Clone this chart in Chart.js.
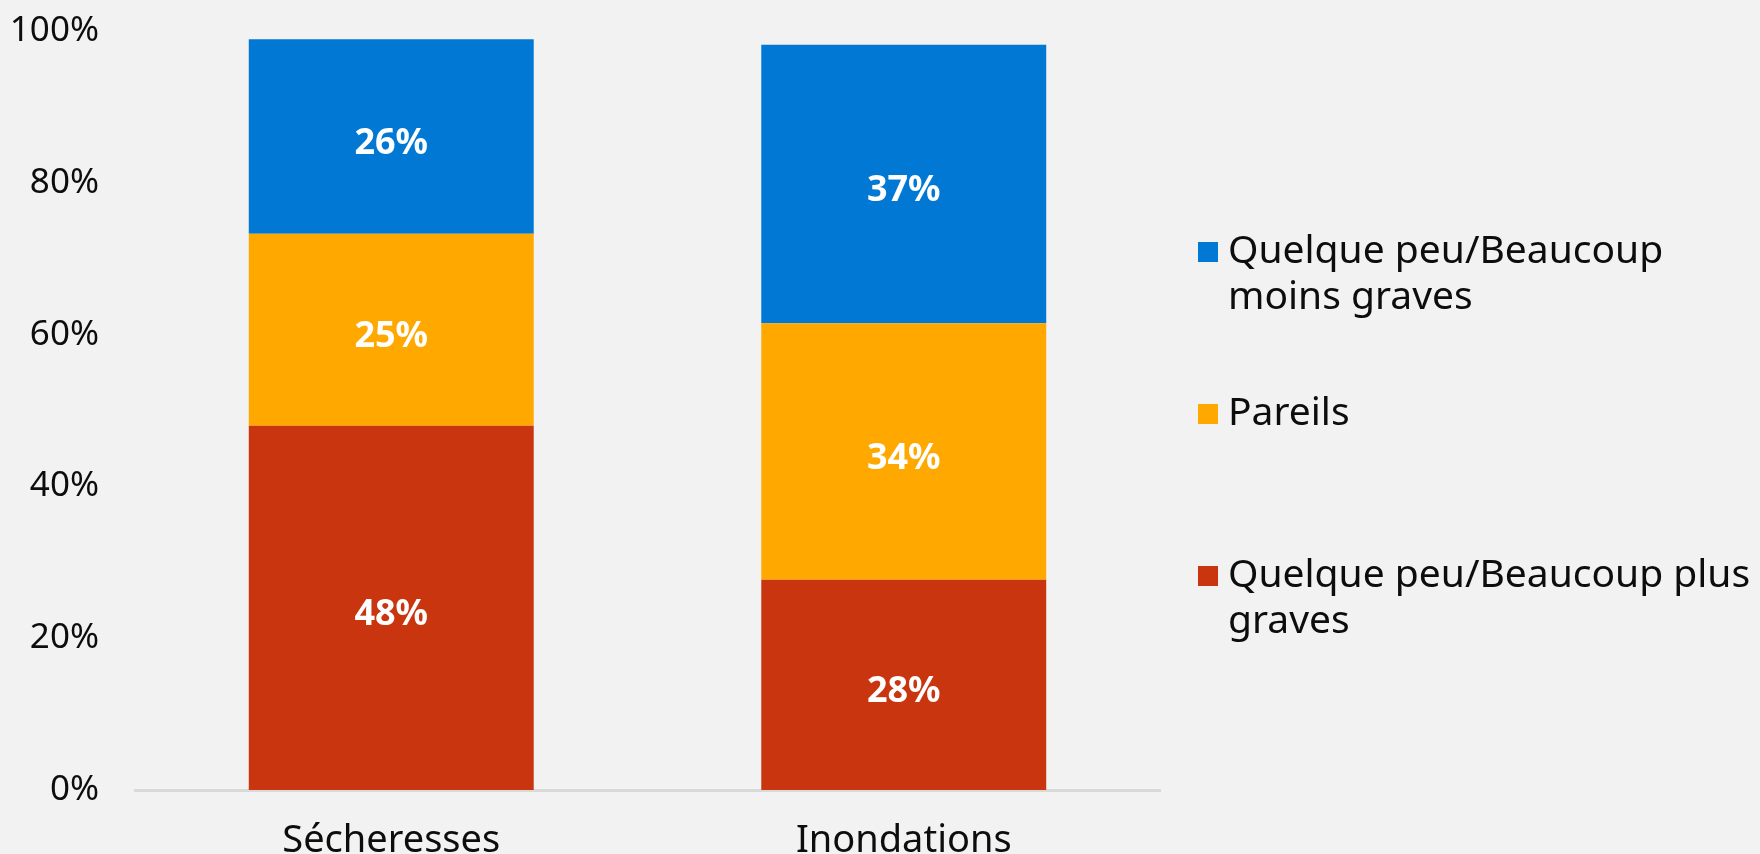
<!DOCTYPE html>
<html>
<head>
<meta charset="utf-8">
<script src="https://cdn.jsdelivr.net/npm/chart.js@4"></script>
<style>
  html, body { margin: 0; background: #f2f2f2; }
  #wrap { width: 1760px; height: 854px; }
</style>
</head>
<body>
<div id="wrap"><canvas id="chart"></canvas></div>
<script>
"use strict"

// values (labels show the rounded value)
const categories = ["Sécheresses", "Inondations"];
const plusGraves = [48.0, 27.7];
const pareils = [25.3, 33.8];
const moinsGraves = [25.6, 36.7];
const seriesNames = ["Quelque peu/Beaucoup plus graves", "Pareils", "Quelque peu/Beaucoup moins graves"];
const seriesColors = ["#c9350e", "#ffa800", "#0078d4"];
const yTickStep = 20;

const FONT = '"Noto Sans", "DejaVu Sans", sans-serif';
const TEXT = "#0d0d0d";

// white percentage inside each segment
const segmentLabels = {
  id: "segmentLabels",
  afterDatasetsDraw(chart) {
    const ctx = chart.ctx;
    ctx.save();
    ctx.font = "bold 36px " + FONT;
    ctx.fillStyle = "#ffffff";
    ctx.textAlign = "center";
    ctx.textBaseline = "middle";
    chart.data.datasets.forEach((ds, i) => {
      chart.getDatasetMeta(i).data.forEach((bar, j) => {
        ctx.fillText(Math.round(ds.data[j]) + "%", bar.x, (bar.y + bar.base) / 2 + 7);
      });
    });
    ctx.restore();
  }
};

// legend on the right, entries spread evenly like the original
const sideLegend = {
  id: "sideLegend",
  afterDraw(chart) {
    const ctx = chart.ctx;
    const area = chart.chartArea;
    const boxX = area.right + 38;
    const textX = boxX + 30;
    const maxW = chart.width - textX - 4;
    ctx.save();
    ctx.font = "39px " + FONT;
    ctx.fillStyle = TEXT;
    ctx.textBaseline = "alphabetic";
    const order = chart.data.datasets.map((d, i) => i).reverse();
    order.forEach((i, k) => {
      const ds = chart.data.datasets[i];
      const top = 242 + k * 162;
      ctx.fillStyle = ds.backgroundColor;
      ctx.fillRect(boxX, top, 20, 20);
      // simple word wrap
      const words = ds.label.split(" ");
      const lines = [];
      let line = "";
      words.forEach(w => {
        const test = line ? line + " " + w : w;
        if (ctx.measureText(test).width > maxW && line) { lines.push(line); line = w; }
        else line = test;
      });
      lines.push(line);
      ctx.fillStyle = TEXT;
      lines.forEach((l, n) => ctx.fillText(l, textX, top + 21 + n * 46));
    });
    ctx.restore();
  }
};

new Chart(document.getElementById("chart"), {
  type: "bar",
  data: {
    labels: categories,
    datasets: [
      { label: seriesNames[0], data: plusGraves, backgroundColor: seriesColors[0] },
      { label: seriesNames[1], data: pareils, backgroundColor: seriesColors[1] },
      { label: seriesNames[2], data: moinsGraves, backgroundColor: seriesColors[2] }
    ]
  },
  options: {
    responsive: true,
    maintainAspectRatio: false,
    animation: false,
    categoryPercentage: 1,
    barPercentage: 0.556,
    layout: { padding: { top: 31, right: 600, left: 0, bottom: 0 } },
    plugins: {
      legend: { display: false },
      tooltip: { enabled: false }
    },
    scales: {
      x: {
        stacked: true,
        grid: { display: false, drawTicks: false },
        border: { display: true, color: "#d9d9d9", width: 3 },
        ticks: { font: { family: FONT, size: 38 }, color: TEXT, padding: 28 },
        afterFit(scale) { scale.height = 64; }
      },
      y: {
        stacked: true,
        min: 0,
        max: 100,
        grid: { display: false, drawTicks: false },
        border: { display: false },
        ticks: {
          stepSize: yTickStep,
          font: { family: FONT, size: 35 },
          color: TEXT,
          padding: 36,
          callback: v => v + "%"
        },
        afterFit(scale) {
          scale.width = 135;
          scale.paddingTop = 0;
          scale.paddingBottom = 0;
        }
      }
    }
  },
  plugins: [segmentLabels, sideLegend]
});
</script>
</body>
</html>
